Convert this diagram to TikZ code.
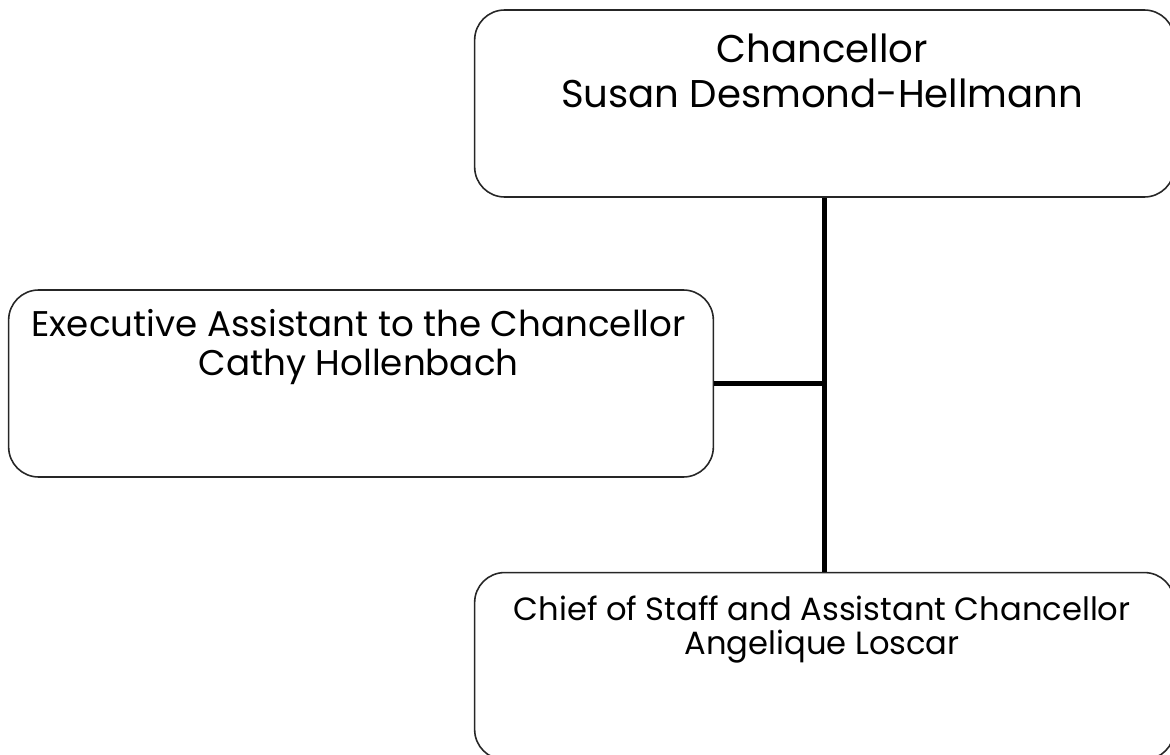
\documentclass[tikz,border=0pt]{standalone}
\usepackage{fontspec}
\setmainfont{Poppins}
\usetikzlibrary{positioning}

% texto de la caja: linea base, tamano, interlineado, ancho, texto
\newcommand{\orgtext}[5]{\parbox[c][3.74cm][t]{#4}{\centering\fontsize{#2}{#3}\selectfont\rule{0pt}{#1}#5}}

\begin{document}
\begin{tikzpicture}[
    font=\rmfamily,
    % Estilos de cajas
    orgbox/.style={rectangle, rounded corners=0.6cm, draw=black!85, line width=0.9pt, fill=white, inner sep=0pt, align=center},
    orgline/.style={draw=black, line width=2.3pt}
]
\useasboundingbox (0,0) rectangle (23.4,-15.1);

% -------------------------
% CAJAS
% -------------------------
\node[orgbox] (chancellor) at (16.49,-2.07) {
    \orgtext{1.04cm}{22pt}{26pt}{13.9cm}{Chancellor\\Susan Desmond-Hellmann}
};

\node[orgbox] (assistant) at (7.22,-7.67) {
    \orgtext{0.92cm}{20.3pt}{22.7pt}{14cm}{Executive Assistant to the Chancellor\\Cathy Hollenbach}
};

\node[orgbox, below=7.48cm of chancellor] (chief) {
    \orgtext{0.96cm}{18.3pt}{19.3pt}{13.9cm}{Chief of Staff and Assistant Chancellor\\Angelique Loscar}
};

% -------------------------
% CONEXIONES
% -------------------------
\draw[orgline] (chancellor.south) -- (chief.north);
\draw[orgline] (assistant.east) -- (assistant.east -| chancellor.south);

\end{tikzpicture}
\end{document}
